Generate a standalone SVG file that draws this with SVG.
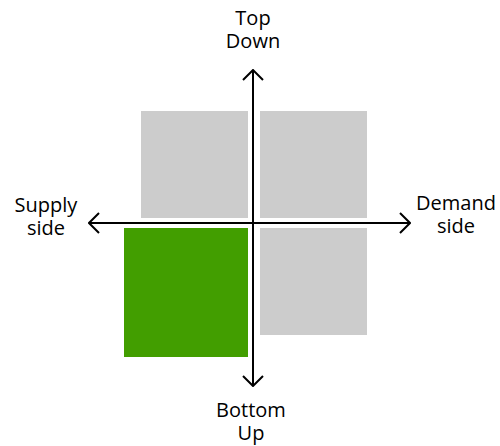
<svg xmlns="http://www.w3.org/2000/svg" width="500" height="446" viewBox="0 0 500 446">
<style>
.q{fill:#cccccc}
.g{fill:#429e00}
.ax{stroke:#000;stroke-width:2;fill:none}
.t{font-family:"Open Sans","Liberation Sans",sans-serif;font-size:20px;fill:#000;text-anchor:middle}
</style>
<defs>
<marker id="ah" viewBox="0 0 12 22" refX="11" refY="11" markerWidth="12" markerHeight="22" markerUnits="userSpaceOnUse" orient="auto">
<path d="M1,1 L11,11 L1,21" fill="none" stroke="#000" stroke-width="2"/>
</marker>
</defs>
<g id="q-top-left"><rect class="q" x="141" y="111" width="107" height="107"/></g>
<g id="q-top-right"><rect class="q" x="260" y="111" width="107" height="107"/></g>
<g id="q-bottom-right"><rect class="q" x="260" y="228" width="107" height="107"/></g>
<g id="q-bottom-left"><rect class="g" x="124" y="228" width="124" height="129"/></g>
<g id="connectors">
<line class="ax" x1="253" y1="223" x2="253" y2="70" marker-end="url(#ah)"/>
<line class="ax" x1="253" y1="223" x2="253" y2="386" marker-end="url(#ah)"/>
<line class="ax" x1="253" y1="223" x2="89" y2="223" marker-end="url(#ah)"/>
<line class="ax" x1="253" y1="223" x2="410" y2="223" marker-end="url(#ah)"/>
</g>
<g id="label-top"><text class="t" x="253" y="25">Top</text><text class="t" x="253" y="48">Down</text></g>
<g id="label-bottom"><text class="t" x="251" y="417">Bottom</text><text class="t" x="251" y="440">Up</text></g>
<g id="label-left"><text class="t" x="46" y="212">Supply</text><text class="t" x="46" y="235">side</text></g>
<g id="label-right"><text class="t" x="456" y="210">Demand</text><text class="t" x="456" y="233">side</text></g>
</svg>
